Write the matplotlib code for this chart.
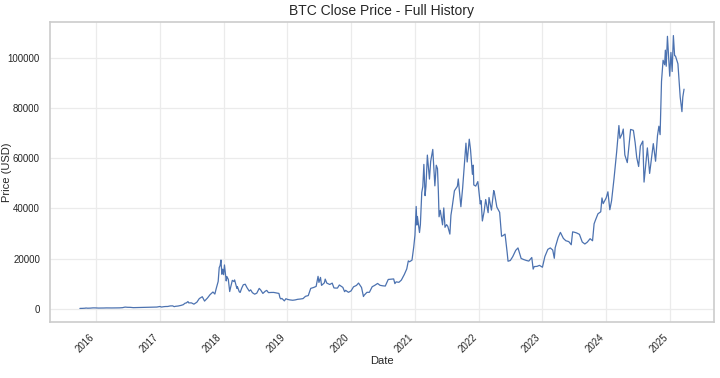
import matplotlib
matplotlib.use("Agg")
import matplotlib.pyplot as plt
import pandas as pd
import seaborn as sns

dates = [
    "2015-10-01", "2015-10-15", "2015-11-01", "2015-11-04", "2015-11-15", "2015-12-01", "2015-12-15",
    "2016-01-01", "2016-01-15", "2016-02-01", "2016-02-15", "2016-03-01", "2016-03-15", "2016-04-01",
    "2016-04-15", "2016-05-01", "2016-05-15", "2016-06-01", "2016-06-16", "2016-07-01", "2016-07-15",
    "2016-08-02", "2016-08-15", "2016-09-01", "2016-09-15", "2016-10-01", "2016-10-15", "2016-11-01",
    "2016-11-15", "2016-12-01", "2016-12-15",
    "2017-01-01", "2017-01-11", "2017-01-20", "2017-02-01", "2017-02-15", "2017-03-01", "2017-03-15",
    "2017-03-24", "2017-04-01", "2017-04-15", "2017-05-01", "2017-05-15", "2017-05-25", "2017-06-01",
    "2017-06-11", "2017-06-15", "2017-07-01", "2017-07-15", "2017-08-01", "2017-08-15", "2017-09-01",
    "2017-09-14", "2017-10-01", "2017-10-15", "2017-11-01", "2017-11-12", "2017-11-20", "2017-12-01",
    "2017-12-07", "2017-12-12", "2017-12-17", "2017-12-22", "2017-12-27",
    "2018-01-01", "2018-01-06", "2018-01-16", "2018-01-20", "2018-01-28", "2018-02-05", "2018-02-10",
    "2018-02-20", "2018-03-01", "2018-03-05", "2018-03-18", "2018-03-21", "2018-04-01", "2018-04-06",
    "2018-04-15", "2018-04-24", "2018-05-05", "2018-05-15", "2018-05-28", "2018-06-05", "2018-06-15",
    "2018-06-28", "2018-07-10", "2018-07-24", "2018-08-01", "2018-08-14", "2018-08-28", "2018-09-05",
    "2018-09-15", "2018-10-01", "2018-10-15", "2018-11-01", "2018-11-14", "2018-11-20", "2018-11-25",
    "2018-12-01", "2018-12-15", "2018-12-24",
    "2019-01-01", "2019-01-15", "2019-02-01", "2019-02-15", "2019-03-01", "2019-03-15", "2019-04-01",
    "2019-04-15", "2019-05-01", "2019-05-15", "2019-06-01", "2019-06-15", "2019-06-26", "2019-07-01",
    "2019-07-10", "2019-07-16", "2019-08-01", "2019-08-06", "2019-08-15", "2019-09-01", "2019-09-15",
    "2019-09-25", "2019-10-01", "2019-10-15", "2019-10-26", "2019-11-01", "2019-11-15", "2019-11-25",
    "2019-12-01", "2019-12-17",
    "2020-01-01", "2020-01-15", "2020-02-01", "2020-02-13", "2020-03-01", "2020-03-12", "2020-03-15",
    "2020-04-01", "2020-04-15", "2020-05-01", "2020-05-15", "2020-06-01", "2020-06-15", "2020-07-01",
    "2020-07-15", "2020-08-01", "2020-08-15", "2020-09-01", "2020-09-08", "2020-09-15", "2020-10-01",
    "2020-10-15", "2020-11-01", "2020-11-15", "2020-11-24", "2020-12-01", "2020-12-15", "2020-12-25",
    "2021-01-01", "2021-01-08", "2021-01-12", "2021-01-15", "2021-01-27", "2021-02-01", "2021-02-09",
    "2021-02-15", "2021-02-21", "2021-02-28", "2021-03-05", "2021-03-13", "2021-03-25", "2021-04-01",
    "2021-04-13", "2021-04-25", "2021-05-03", "2021-05-10", "2021-05-15", "2021-05-19", "2021-05-26",
    "2021-06-01", "2021-06-08", "2021-06-15", "2021-06-22", "2021-07-01", "2021-07-08", "2021-07-20",
    "2021-07-26", "2021-08-01", "2021-08-15", "2021-09-01", "2021-09-06", "2021-09-21", "2021-10-01",
    "2021-10-15", "2021-10-20", "2021-10-27", "2021-11-08", "2021-11-15", "2021-11-26", "2021-12-01",
    "2021-12-04", "2021-12-15", "2021-12-27",
    "2022-01-01", "2022-01-10", "2022-01-15", "2022-01-22", "2022-02-01", "2022-02-10", "2022-02-24",
    "2022-03-01", "2022-03-15", "2022-03-28", "2022-04-01", "2022-04-15", "2022-05-01", "2022-05-12",
    "2022-05-20", "2022-06-01", "2022-06-13", "2022-06-18", "2022-07-01", "2022-07-15", "2022-08-01",
    "2022-08-14", "2022-09-01", "2022-09-15", "2022-10-01", "2022-10-15", "2022-11-01", "2022-11-09",
    "2022-11-15", "2022-12-01", "2022-12-15",
    "2023-01-01", "2023-01-15", "2023-02-01", "2023-02-15", "2023-03-01", "2023-03-10", "2023-03-15",
    "2023-04-01", "2023-04-14", "2023-05-01", "2023-05-15", "2023-06-01", "2023-06-15", "2023-06-23",
    "2023-07-01", "2023-07-15", "2023-08-01", "2023-08-17", "2023-09-01", "2023-09-15", "2023-10-01",
    "2023-10-15", "2023-10-24", "2023-11-01", "2023-11-15", "2023-12-01", "2023-12-08", "2023-12-15",
    "2024-01-01", "2024-01-11", "2024-01-22", "2024-02-01", "2024-02-15", "2024-03-01", "2024-03-14",
    "2024-03-20", "2024-04-01", "2024-04-08", "2024-04-17", "2024-05-01", "2024-05-20", "2024-06-05",
    "2024-06-15", "2024-06-24", "2024-07-05", "2024-07-15", "2024-07-29", "2024-08-05", "2024-08-15",
    "2024-08-24", "2024-09-06", "2024-09-15", "2024-09-27", "2024-10-10", "2024-10-21", "2024-10-29",
    "2024-11-05", "2024-11-13", "2024-11-22", "2024-12-01", "2024-12-05", "2024-12-10", "2024-12-17",
    "2024-12-30",
    "2025-01-06", "2025-01-13", "2025-01-20", "2025-01-27", "2025-02-01", "2025-02-15", "2025-02-28",
    "2025-03-10", "2025-03-15", "2025-03-22",
]

close = [
    237, 255, 325, 400, 320, 362, 445,
    434, 375, 372, 400, 435, 415, 417,
    430, 450, 457, 536, 765, 676, 665,
    545, 567, 572, 607, 613, 638, 730,
    711, 753, 780,
    998, 777, 895, 989, 1009, 1222, 1253,
    937, 1079, 1180, 1421, 1724, 2304, 2407,
    2958, 2442, 2434, 1929, 2718, 4161, 4892,
    3154, 4403, 5680, 6767, 5950, 8200, 10975,
    16500, 17276, 19497, 13831, 15838,
    13657, 17527, 11180, 12900, 11786, 6955, 8530,
    11403, 10951, 11573, 8223, 8900, 6845, 6600,
    8355, 9650, 9858, 8504, 7118, 7625, 6499,
    5900, 6300, 8200, 7605, 6200, 7100, 7400,
    6519, 6589, 6597, 6377, 6200, 4450, 4009,
    4214, 3236, 4100,
    3843, 3630, 3487, 3618, 3859, 3960, 4143,
    5047, 5350, 8205, 8574, 8994, 13000, 10583,
    12567, 9400, 10400, 11900, 10311, 9757, 10306,
    8400, 8344, 8321, 9551, 9261, 8603, 6900,
    7425, 6640,
    7200, 8821, 9392, 10326, 8563, 4971, 5392,
    6641, 6640, 8864, 9386, 10167, 9426, 9228,
    9132, 11759, 11850, 11970, 10100, 10800, 10620,
    11504, 13738, 15955, 19150, 18803, 19440, 24700,
    29374, 40797, 33400, 36825, 30433, 33537, 46400,
    48717, 57539, 45100, 48800, 61243, 51704, 58760,
    63503, 49004, 57200, 55859, 46760, 36700, 39300,
    36684, 33500, 40218, 32505, 33572, 32900, 29807,
    37300, 39974, 47047, 48847, 51753, 40693, 48116,
    61672, 65992, 58500, 67566, 63577, 53600, 57229,
    49368, 48896, 50700,
    47686, 41800, 43099, 35030, 38743, 43565, 38332,
    44354, 39338, 47128, 46281, 40553, 38469, 28936,
    29200, 29799, 22487, 19017, 19297, 20836, 23336,
    24305, 20127, 19701, 19312, 19068, 20495, 15880,
    16884, 16965, 17364,
    16625, 20880, 23731, 24307, 23475, 20187, 24375,
    28453, 30485, 28091, 27171, 26820, 25575, 30695,
    30585, 30295, 29705, 26664, 25869, 26608, 27983,
    27154, 33914, 35421, 37880, 38688, 44200, 41929,
    44179, 46633, 39500, 43082, 51880, 62431, 73000,
    67913, 69705, 71600, 61300, 58254, 71448, 71100,
    66191, 60300, 56705, 64870, 66819, 50500, 57560,
    64100, 53950, 59182, 65800, 58800, 69000, 72736,
    69374, 90585, 98997, 97185, 103000, 96600, 108500,
    92643,
    102078, 94516, 108800, 100800, 100655, 97571, 84373,
    78532, 84343, 87471,
]

title_text = "BTC Close Price - Full History"
x_label = "Date"
y_label = "Price (USD)"

sns.set_theme(style="whitegrid")
plt.rcParams["font.family"] = ["Liberation Sans", "DejaVu Sans"]

df = pd.DataFrame({"Date": pd.to_datetime(dates), "Close": close})

fig = plt.figure(figsize=(7.2, 3.78), dpi=100)
ax = fig.add_axes([0.069, 0.148, 0.923, 0.794])
ax.plot(df["Date"], df["Close"], color="#4c72b0", linewidth=0.9)

ax.set_title(title_text, fontsize=10, color="#262626", pad=5)
ax.set_xlabel(x_label, fontsize=8, color="#262626", labelpad=1)
ax.set_ylabel(y_label, fontsize=8, color="#262626")
ax.yaxis.set_label_coords(-0.057, 0.5)
ax.tick_params(axis="both", labelsize=7, colors="#262626", length=0, pad=7)
ax.set_yticks([0, 20000, 40000, 60000, 80000, 100000])
for lbl in ax.get_xticklabels():
    lbl.set_rotation(45)
    lbl.set_ha("right")

for s in ax.spines.values():
    s.set_color("#cccccc")
    s.set_linewidth(1.2)
ax.grid(True, color="#ebebeb", linewidth=0.9)

fig.savefig("out.png", dpi=100)
